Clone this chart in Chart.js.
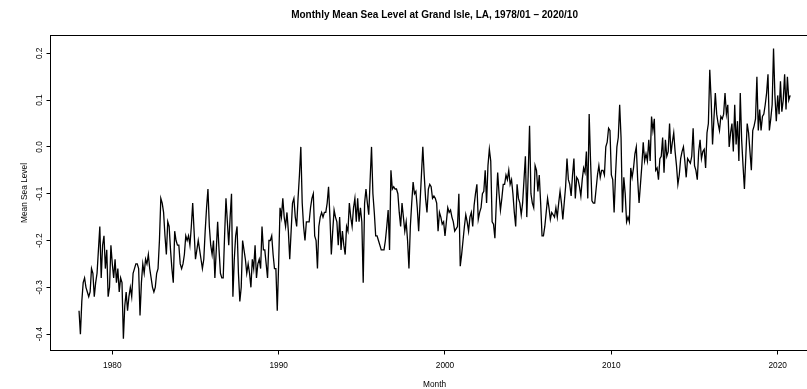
<!DOCTYPE html>
<html>
<head>
<meta charset="utf-8">
<title>Monthly Mean Sea Level at Grand Isle, LA</title>
<script src="https://cdn.jsdelivr.net/npm/chart.js@4.4.0/dist/chart.umd.min.js"></script>
<style>
  html, body { margin: 0; padding: 0; background: #fff; overflow: hidden; }
  #wrap { width: 830px; height: 389px; }
</style>
</head>
<body>
<div id="wrap"><canvas id="mslChart" width="830" height="389"></canvas></div>
<script>
// Monthly mean sea level, one row per year, starting 1978/01
const startYear = 1978;

const msl1970s = [
  -0.35, -0.40, -0.33, -0.29, -0.28, -0.30, -0.31, -0.32, -0.31, -0.26, -0.27, -0.32,
  -0.29, -0.27, -0.22, -0.17, -0.28, -0.21, -0.19, -0.26, -0.22, -0.32, -0.30, -0.21,
];

const msl1980s = [
  -0.25, -0.28, -0.24, -0.29, -0.26, -0.31, -0.28, -0.29, -0.41, -0.34, -0.31, -0.35,
  -0.32, -0.30, -0.32, -0.27, -0.26, -0.25, -0.25, -0.26, -0.36, -0.29, -0.25, -0.27,
  -0.24, -0.25, -0.23, -0.26, -0.28, -0.30, -0.31, -0.30, -0.27, -0.26, -0.20, -0.11,
  -0.12, -0.14, -0.19, -0.23, -0.16, -0.17, -0.22, -0.26, -0.29, -0.18, -0.20, -0.21,
  -0.21, -0.25, -0.26, -0.25, -0.23, -0.19, -0.20, -0.19, -0.21, -0.17, -0.12, -0.18,
  -0.24, -0.22, -0.20, -0.22, -0.24, -0.26, -0.24, -0.18, -0.13, -0.09, -0.17, -0.21,
  -0.23, -0.20, -0.28, -0.22, -0.16, -0.22, -0.27, -0.28, -0.28, -0.19, -0.11, -0.16,
  -0.21, -0.15, -0.10, -0.32, -0.24, -0.19, -0.17, -0.27, -0.33, -0.30, -0.20, -0.22,
  -0.24, -0.27, -0.25, -0.27, -0.30, -0.24, -0.26, -0.21, -0.28, -0.25, -0.24, -0.26,
  -0.17, -0.22, -0.22, -0.25, -0.28, -0.20, -0.20, -0.19, -0.23, -0.26, -0.26, -0.35,
];

const msl1990s = [
  -0.25, -0.13, -0.15, -0.11, -0.15, -0.17, -0.14, -0.18, -0.24, -0.18, -0.12, -0.11,
  -0.15, -0.17, -0.11, -0.06, 0.00, -0.12, -0.17, -0.20, -0.16, -0.16, -0.16, -0.13,
  -0.11, -0.10, -0.19, -0.20, -0.26, -0.17, -0.15, -0.14, -0.15, -0.14, -0.14, -0.12,
  -0.085, -0.15, -0.23, -0.18, -0.135, -0.15, -0.16, -0.21, -0.15, -0.22, -0.18, -0.21,
  -0.23, -0.17, -0.18, -0.12, -0.15, -0.17, -0.13, -0.11, -0.16, -0.11, -0.16, -0.13,
  -0.16, -0.29, -0.12, -0.09, -0.12, -0.145, -0.07, 0.00, -0.10, -0.14, -0.19, -0.19,
  -0.20, -0.21, -0.22, -0.22, -0.22, -0.20, -0.17, -0.135, -0.22, -0.05, -0.09, -0.085,
  -0.09, -0.09, -0.10, -0.14, -0.17, -0.12, -0.15, -0.18, -0.16, -0.20, -0.26, -0.17,
  -0.12, -0.075, -0.10, -0.095, -0.13, -0.18, -0.12, -0.06, 0.00, -0.06, -0.11, -0.14,
  -0.09, -0.08, -0.085, -0.11, -0.105, -0.11, -0.12, -0.18, -0.14, -0.15, -0.165, -0.16,
];

const msl2000s = [
  -0.19, -0.16, -0.13, -0.14, -0.135, -0.15, -0.16, -0.18, -0.175, -0.17, -0.10, -0.255,
  -0.23, -0.20, -0.17, -0.145, -0.16, -0.18, -0.15, -0.14, -0.17, -0.125, -0.10, -0.08,
  -0.155, -0.14, -0.13, -0.10, -0.095, -0.05, -0.12, -0.04, -0.005, -0.03, -0.16, -0.165,
  -0.195, -0.12, -0.055, -0.10, -0.135, -0.11, -0.08, -0.08, -0.06, -0.07, -0.05, -0.08,
  -0.07, -0.10, -0.14, -0.17, -0.08, -0.11, -0.12, -0.145, -0.12, -0.07, -0.02, -0.15,
  -0.06, 0.045, -0.10, -0.12, -0.13, -0.04, -0.05, -0.095, -0.06, -0.12, -0.19, -0.19,
  -0.17, -0.14, -0.11, -0.13, -0.155, -0.14, -0.145, -0.15, -0.13, -0.15, -0.12, -0.095,
  -0.12, -0.155, -0.12, -0.085, -0.025, -0.07, -0.08, -0.105, -0.06, -0.025, -0.11, -0.065,
  -0.07, -0.085, -0.105, -0.07, -0.045, -0.055, -0.01, -0.11, 0.07, -0.03, -0.115, -0.12,
  -0.12, -0.09, -0.06, -0.04, -0.065, -0.05, -0.05, -0.06, 0.00, 0.01, 0.04, 0.035,
];

const msl2010s = [
  -0.06, -0.07, -0.14, -0.06, 0.00, 0.02, 0.09, 0.02, -0.14, -0.065, -0.10, -0.16,
  -0.15, -0.16, -0.045, -0.065, -0.045, -0.015, 0.00, -0.07, -0.12, -0.08, -0.04, 0.01,
  -0.03, -0.015, -0.03, 0.015, -0.03, 0.065, 0.035, 0.06, -0.05, -0.045, -0.07, -0.025,
  -0.02, 0.02, -0.055, 0.015, -0.02, -0.01, 0.05, -0.015, 0.01, 0.03, -0.01, -0.04,
  -0.08, -0.06, -0.025, -0.01, 0.00, -0.03, -0.065, -0.025, -0.03, -0.035, -0.02, 0.04,
  -0.04, -0.05, -0.07, -0.01, 0.015, -0.025, -0.01, -0.005, -0.045, 0.03, 0.05, 0.165,
  0.10, 0.005, 0.06, 0.115, 0.07, 0.05, 0.035, 0.065, 0.06, 0.07, 0.115, 0.07,
  0.09, 0.00, 0.03, 0.05, -0.01, 0.09, 0.005, 0.055, -0.03, 0.115, 0.015, -0.04,
  -0.09, -0.02, 0.05, 0.03, -0.01, -0.05, 0.035, 0.045, 0.06, 0.15, 0.035, 0.08,
  0.035, 0.065, 0.07, 0.09, 0.115, 0.155, 0.035, 0.06, 0.09, 0.21, 0.11, 0.055,
];

// 2020/01 - 2020/10
const msl2020s = [0.11, 0.07, 0.14, 0.075, 0.10, 0.155, 0.08, 0.15, 0.10, 0.11];

const xTicks = [1980, 1990, 2000, 2010, 2020];
const yTicks = [-0.4, -0.3, -0.2, -0.1, 0.0, 0.1, 0.2];

const mslValues = [...msl1970s, ...msl1980s, ...msl1990s, ...msl2000s, ...msl2010s, ...msl2020s];

// time in decimal years, like an R ts object
const mslPoints = mslValues.map((v, i) => ({ x: startYear + i / 12, y: v }));

const fontFamily = '"Liberation Sans", Arial, Helvetica, sans-serif';

// full box around the plotting region
const plotBox = {
  id: "plotBox",
  afterDraw(chart) {
    const { ctx, chartArea } = chart;
    ctx.save();
    ctx.strokeStyle = "#000";
    ctx.lineWidth = 1;
    ctx.strokeRect(
      chartArea.left,
      chartArea.top,
      chartArea.right - chartArea.left,
      chartArea.bottom - chartArea.top
    );
    ctx.restore();
  },
};

const ctx = document.getElementById("mslChart").getContext("2d");
const mslChart = new Chart(ctx, {
  type: "line",
  data: {
    datasets: [
      {
        label: "Mean Sea Level",
        data: mslPoints,
        borderColor: "#000",
        borderWidth: 1.3,
        pointRadius: 0,
        tension: 0,
        fill: false,
      },
    ],
  },
  options: {
    responsive: false,
    devicePixelRatio: 1,
    animation: false,
    layout: {
      padding: { left: 0, right: 11.4, top: 0, bottom: 0 },
    },
    plugins: {
      legend: { display: false },
      tooltip: { enabled: false },
      title: {
        display: true,
        fullSize: false,
        text: "Monthly Mean Sea Level at Grand Isle, LA, 1978/01 \u2013 2020/10",
        color: "#000",
        font: { family: fontFamily, size: 10, weight: "bold", lineHeight: 1.2 },
        padding: { top: 9, bottom: 14.5 },
      },
    },
    scales: {
      x: {
        type: "linear",
        min: 1976.285,
        max: 2022.459,
        afterBuildTicks: (scale) => {
          scale.ticks = xTicks.map((v) => ({ value: v }));
        },
        afterFit: (scale) => {
          scale.height = 38.5;
        },
        grid: {
          display: true,
          drawOnChartArea: false,
          drawTicks: true,
          tickLength: 4,
          color: "#000",
        },
        border: { display: false },
        ticks: {
          color: "#000",
          padding: 6.5,
          maxRotation: 0,
          font: { family: fontFamily, size: 8.3 },
          callback: (v) => String(v),
        },
        title: {
          display: true,
          text: "Month",
          color: "#000",
          font: { family: fontFamily, size: 8.3, lineHeight: 1.2 },
          padding: { top: 0, bottom: -1 },
        },
      },
      y: {
        type: "linear",
        min: -0.435,
        max: 0.238,
        afterBuildTicks: (scale) => {
          scale.ticks = yTicks.map((v) => ({ value: v }));
        },
        afterFit: (scale) => {
          scale.width = 50.5;
        },
        grid: {
          display: true,
          drawOnChartArea: false,
          drawTicks: true,
          tickLength: 4,
          color: "#000",
        },
        border: { display: false },
        ticks: {
          color: "#000",
          padding: 0,
          minRotation: 90,
          maxRotation: 90,
          crossAlign: "center",
          font: { family: fontFamily, size: 8.3 },
          callback: (v) => v.toFixed(1),
        },
        title: {
          display: true,
          text: "Mean Sea Level",
          color: "#000",
          font: { family: fontFamily, size: 8.3, lineHeight: 1.2 },
          padding: { top: 20, bottom: 0 },
        },
      },
    },
  },
  plugins: [plotBox],
});
</script>
</body>
</html>
